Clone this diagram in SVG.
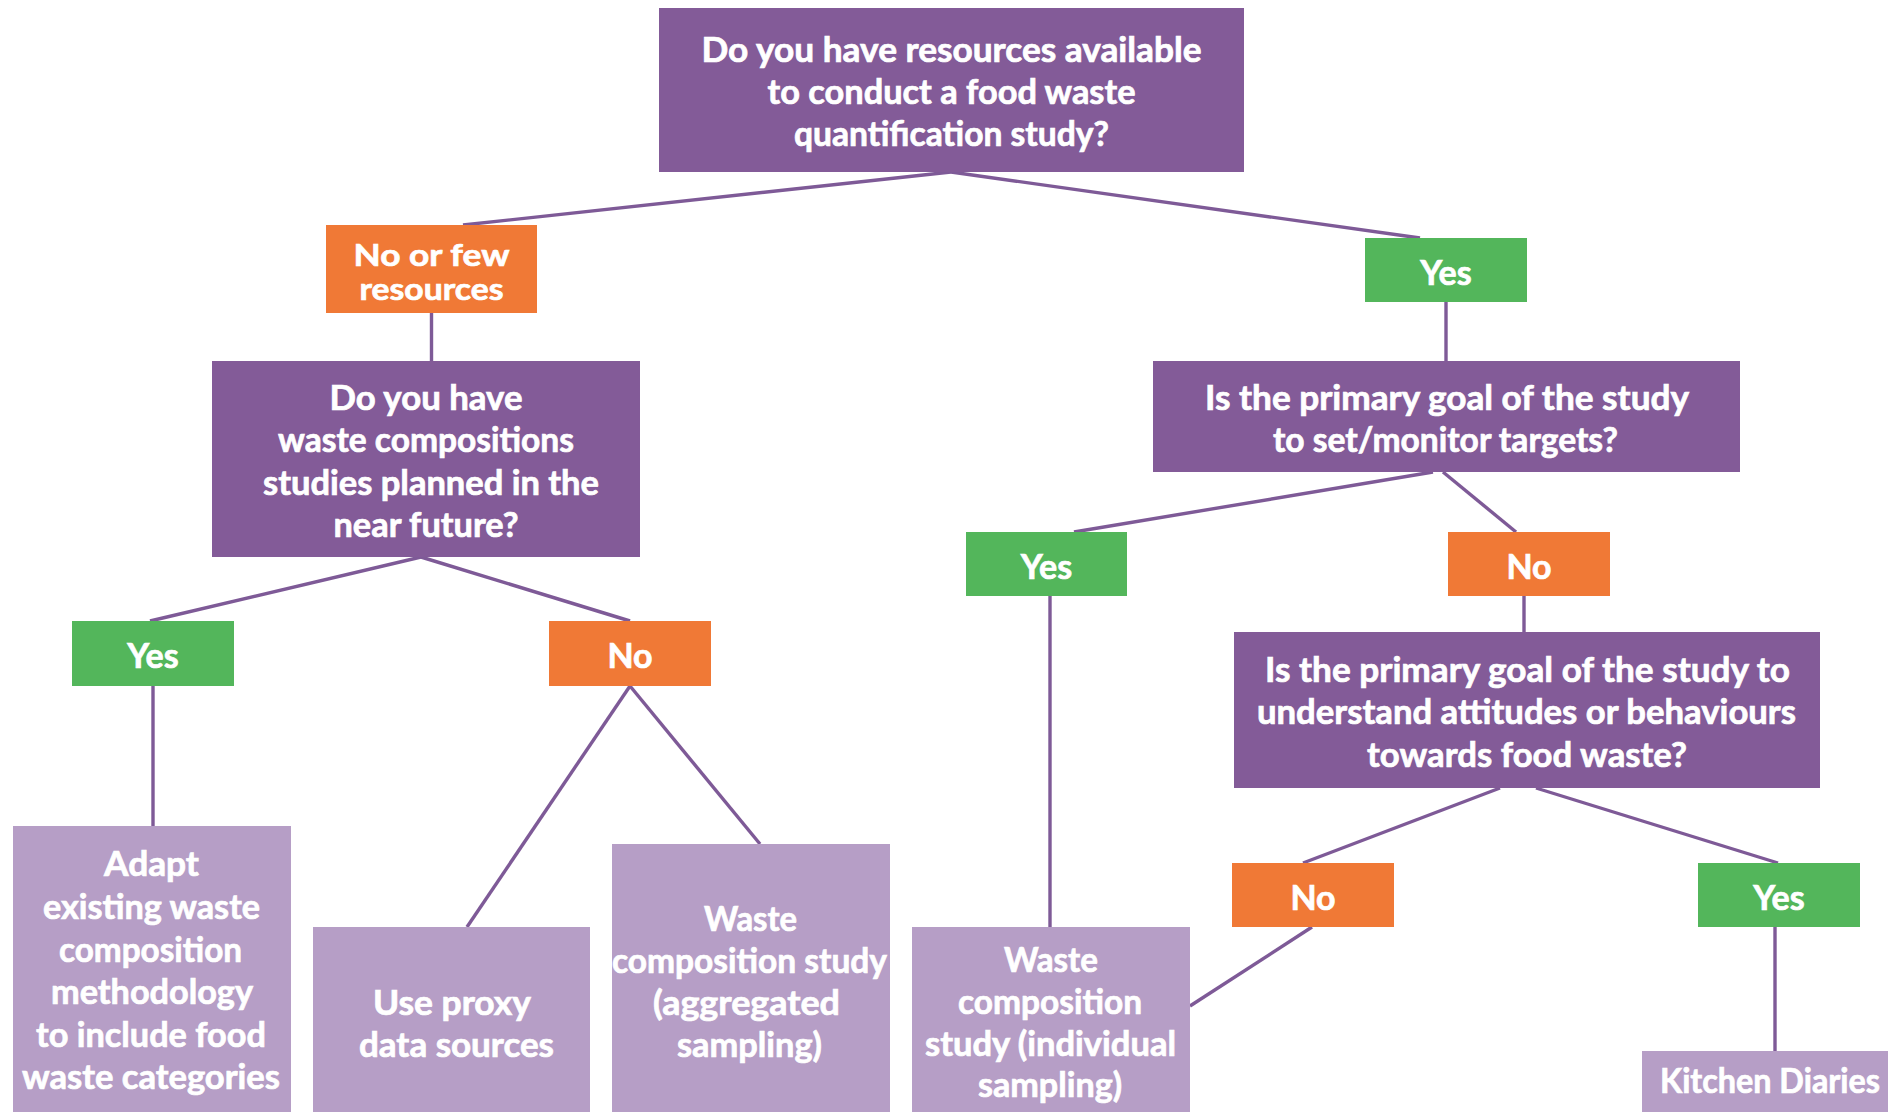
<svg xmlns="http://www.w3.org/2000/svg" width="1888" height="1112" viewBox="0 0 1888 1112">
<style>
.q{fill:#835B98}
.r{fill:#B69EC6}
.o{fill:#F07936}
.g{fill:#53B65B}
text{font-family:Lato,"Liberation Sans",sans-serif;font-weight:bold;font-size:34px;fill:#fff;stroke:#fff;stroke-width:0.7;text-anchor:middle}
.s{font-size:31px}
.c line{stroke:#7E5A97;stroke-width:3.4;fill:none}
</style>
<rect width="1888" height="1112" fill="#fff"/>
<g class="c" id="connectors">
<line x1="951" y1="172" x2="463" y2="225"/>
<line x1="951" y1="172" x2="1420" y2="238"/>
<line x1="431.5" y1="313" x2="431.5" y2="361"/>
<line x1="421" y1="557" x2="150" y2="621"/>
<line x1="421" y1="557" x2="630" y2="621"/>
<line x1="153" y1="686" x2="153" y2="826"/>
<line x1="630" y1="686" x2="467" y2="927"/>
<line x1="630" y1="686" x2="760" y2="844"/>
<line x1="1446" y1="302" x2="1446" y2="361"/>
<line x1="1433" y1="472" x2="1074" y2="532"/>
<line x1="1443" y1="472" x2="1516" y2="532"/>
<line x1="1050" y1="596" x2="1050" y2="927"/>
<line x1="1524" y1="596" x2="1524" y2="632"/>
<line x1="1500" y1="788" x2="1303" y2="863"/>
<line x1="1536" y1="788" x2="1778" y2="863"/>
<line x1="1312" y1="927" x2="1190" y2="1006"/>
<line x1="1775" y1="927" x2="1775" y2="1051"/>
</g>
<g id="q1">
<rect class="q" x="659" y="8" width="585" height="164"/>
<text x="951.5" y="62" textLength="500" lengthAdjust="spacingAndGlyphs">Do you have resources available</text>
<text x="951.5" y="104" textLength="368" lengthAdjust="spacingAndGlyphs">to conduct a food waste</text>
<text x="951.5" y="146" textLength="315" lengthAdjust="spacingAndGlyphs">quantification study?</text>
</g>
<g id="noFew">
<rect class="o" x="326" y="225" width="211" height="88"/>
<text class="s" x="431.5" y="266" textLength="156" lengthAdjust="spacingAndGlyphs">No or few</text>
<text class="s" x="431.5" y="300" textLength="144" lengthAdjust="spacingAndGlyphs">resources</text>
</g>
<g id="yesTop">
<rect class="g" x="1365" y="238" width="162" height="64"/>
<text x="1446" y="285">Yes</text>
</g>
<g id="q2">
<rect class="q" x="212" y="361" width="428" height="196"/>
<text x="426" y="410" textLength="193" lengthAdjust="spacingAndGlyphs">Do you have</text>
<text x="426" y="452" textLength="296" lengthAdjust="spacingAndGlyphs">waste compositions</text>
<text x="431" y="495" textLength="336" lengthAdjust="spacingAndGlyphs">studies planned in the</text>
<text x="426" y="537" textLength="185" lengthAdjust="spacingAndGlyphs">near future?</text>
</g>
<g id="q3">
<rect class="q" x="1153" y="361" width="587" height="111"/>
<text x="1447" y="410" textLength="484" lengthAdjust="spacingAndGlyphs">Is the primary goal of the study</text>
<text x="1445.5" y="452" textLength="345" lengthAdjust="spacingAndGlyphs">to set/monitor targets?</text>
</g>
<g id="yesMid">
<rect class="g" x="966" y="532" width="161" height="64"/>
<text x="1046.5" y="579">Yes</text>
</g>
<g id="noMid">
<rect class="o" x="1448" y="532" width="162" height="64"/>
<text x="1529" y="579">No</text>
</g>
<g id="yesLeft">
<rect class="g" x="72" y="621" width="162" height="65"/>
<text x="153" y="668">Yes</text>
</g>
<g id="noLeft">
<rect class="o" x="549" y="621" width="162" height="65"/>
<text x="630" y="668">No</text>
</g>
<g id="q4">
<rect class="q" x="1234" y="632" width="586" height="156"/>
<text x="1527.5" y="682" textLength="525" lengthAdjust="spacingAndGlyphs">Is the primary goal of the study to</text>
<text x="1526.5" y="724" textLength="539" lengthAdjust="spacingAndGlyphs">understand attitudes or behaviours</text>
<text x="1527" y="767" textLength="320" lengthAdjust="spacingAndGlyphs">towards food waste?</text>
</g>
<g id="noBottom">
<rect class="o" x="1232" y="863" width="162" height="64"/>
<text x="1313" y="910">No</text>
</g>
<g id="yesBottom">
<rect class="g" x="1698" y="863" width="162" height="64"/>
<text x="1779" y="910">Yes</text>
</g>
<g id="adapt">
<rect class="r" x="13" y="826" width="278" height="286"/>
<text x="151.5" y="876" textLength="95" lengthAdjust="spacingAndGlyphs">Adapt</text>
<text x="151.5" y="919" textLength="217" lengthAdjust="spacingAndGlyphs">existing waste</text>
<text x="150.5" y="962" textLength="183" lengthAdjust="spacingAndGlyphs">composition</text>
<text x="152" y="1004" textLength="202" lengthAdjust="spacingAndGlyphs">methodology</text>
<text x="151" y="1047" textLength="230" lengthAdjust="spacingAndGlyphs">to include food</text>
<text x="151" y="1089" textLength="258" lengthAdjust="spacingAndGlyphs">waste categories</text>
</g>
<g id="proxy">
<rect class="r" x="313" y="927" width="277" height="185"/>
<text x="452" y="1015" textLength="158" lengthAdjust="spacingAndGlyphs">Use proxy</text>
<text x="456.5" y="1057" textLength="195" lengthAdjust="spacingAndGlyphs">data sources</text>
</g>
<g id="aggregated">
<rect class="r" x="612" y="844" width="278" height="268"/>
<text x="750.5" y="931" textLength="93" lengthAdjust="spacingAndGlyphs">Waste</text>
<text x="749.5" y="973" textLength="275" lengthAdjust="spacingAndGlyphs">composition study</text>
<text x="746.5" y="1015" textLength="187" lengthAdjust="spacingAndGlyphs">(aggregated</text>
<text x="749.5" y="1057" textLength="145" lengthAdjust="spacingAndGlyphs">sampling)</text>
</g>
<g id="individual">
<rect class="r" x="912" y="927" width="278" height="185"/>
<text x="1051" y="972" textLength="94" lengthAdjust="spacingAndGlyphs">Waste</text>
<text x="1050" y="1014" textLength="184" lengthAdjust="spacingAndGlyphs">composition</text>
<text x="1050.5" y="1056" textLength="251" lengthAdjust="spacingAndGlyphs">study (individual</text>
<text x="1050" y="1097" textLength="144" lengthAdjust="spacingAndGlyphs">sampling)</text>
</g>
<g id="diaries">
<rect class="r" x="1642" y="1051" width="270" height="61"/>
<text x="1770" y="1093" textLength="220" lengthAdjust="spacingAndGlyphs">Kitchen Diaries</text>
</g>
</svg>
